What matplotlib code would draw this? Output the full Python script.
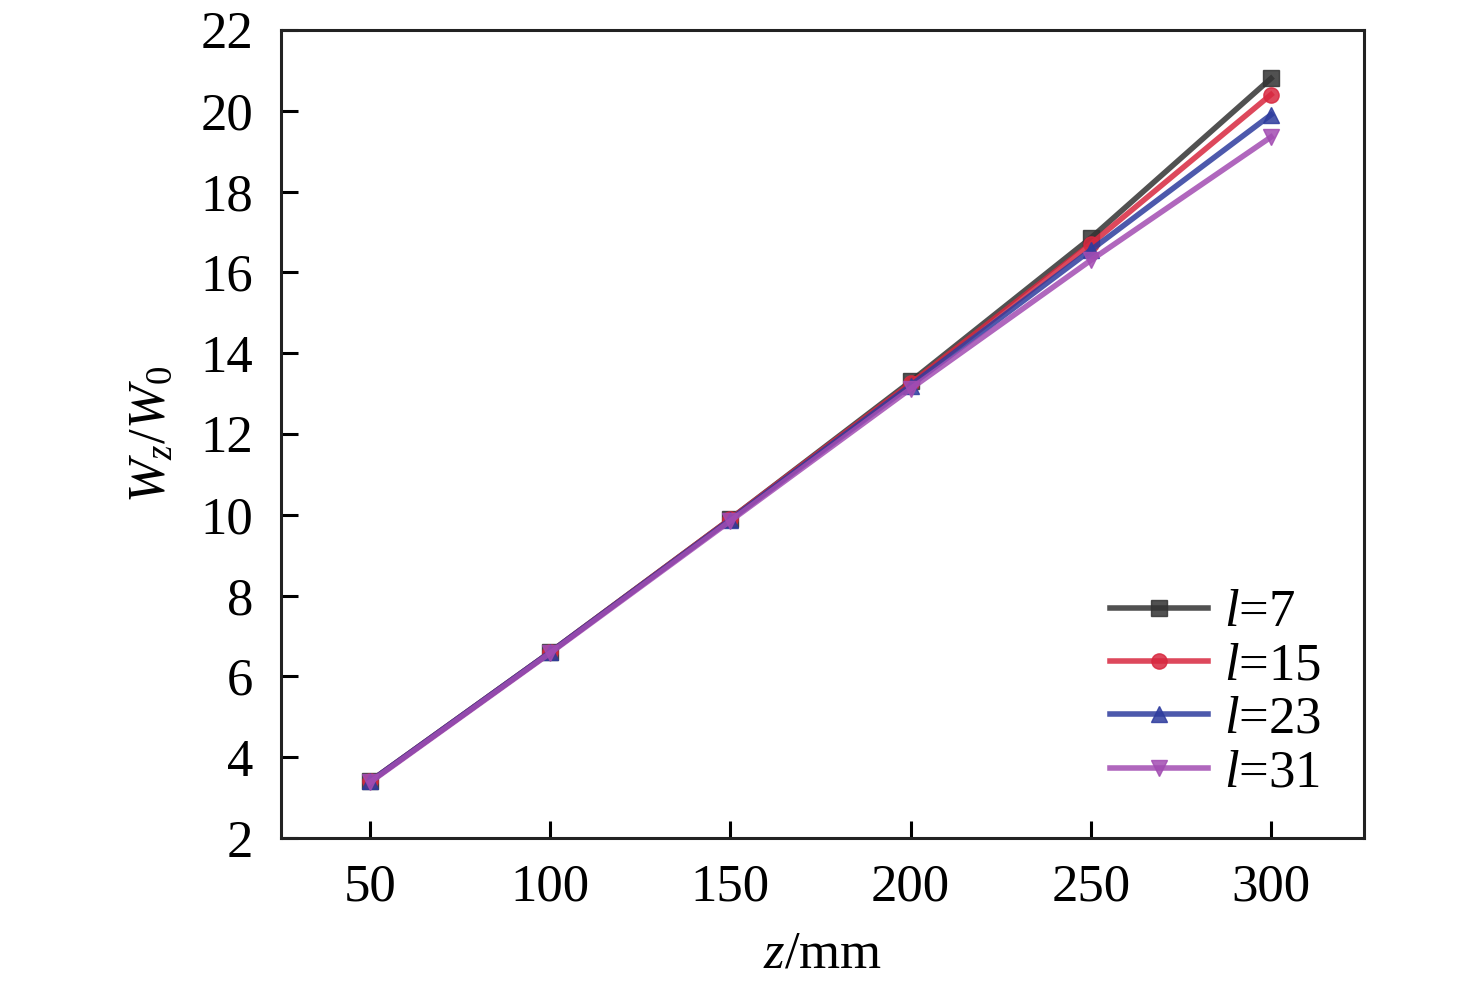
import matplotlib
matplotlib.use("Agg")
import matplotlib.pyplot as plt
import numpy as np

plt.rcParams['font.family'] = ['Liberation Serif', 'DejaVu Serif']
plt.rcParams['mathtext.fontset'] = 'custom'
plt.rcParams['mathtext.rm'] = 'Liberation Serif'
plt.rcParams['mathtext.it'] = 'Liberation Serif:italic'

z = [50, 100, 150, 200, 250, 300]
l7 = [3.4, 6.6, 9.9, 13.3, 16.85, 20.8]
l15 = [3.4, 6.6, 9.9, 13.25, 16.7, 20.4]
l23 = [3.4, 6.6, 9.88, 13.2, 16.55, 19.9]
l31 = [3.38, 6.58, 9.85, 13.12, 16.3, 19.35]
labels = ['$l$=7', '$l$=15', '$l$=23', '$l$=31']

series = [l7, l15, l23, l31]
colors = ['#333333', '#d8283f', '#2e3c9e', '#a24cb2']
markers = ['s', 'o', '^', 'v']

LS = 38
fig = plt.figure(figsize=(14.76, 9.82), dpi=100)
ax = fig.add_axes([0.1904, 0.1466, 0.7337, 0.8229])

for y, c, m, lab in zip(series, colors, markers, labels):
    ax.plot(z, y, color=c, marker=m, markersize=11, linewidth=4,
            alpha=0.85, label=lab)

ax.set_xlim(25.3, 325.8)
ax.set_ylim(2, 22)
ax.set_xticks(z)
ax.set_yticks(np.arange(2, 23, 2))
ax.tick_params(direction='in', length=12, width=2.2, labelsize=LS,
               top=False, right=False)
ax.tick_params(axis='x', pad=18)
ax.tick_params(axis='y', pad=20)
for s in ax.spines.values():
    s.set_linewidth(2.2)
    s.set_color('#222222')

ax.set_xlabel('$z$/mm', size=LS, labelpad=14)
ax.set_ylabel('$W_z/W_0$', size=LS, labelpad=18)

leg = ax.legend(loc='lower right', frameon=False, fontsize=LS,
                handlelength=1.85, handletextpad=0.3, labelspacing=0.1,
                bbox_to_anchor=(1.004, -0.008))

plt.savefig("out.png", dpi=100)
